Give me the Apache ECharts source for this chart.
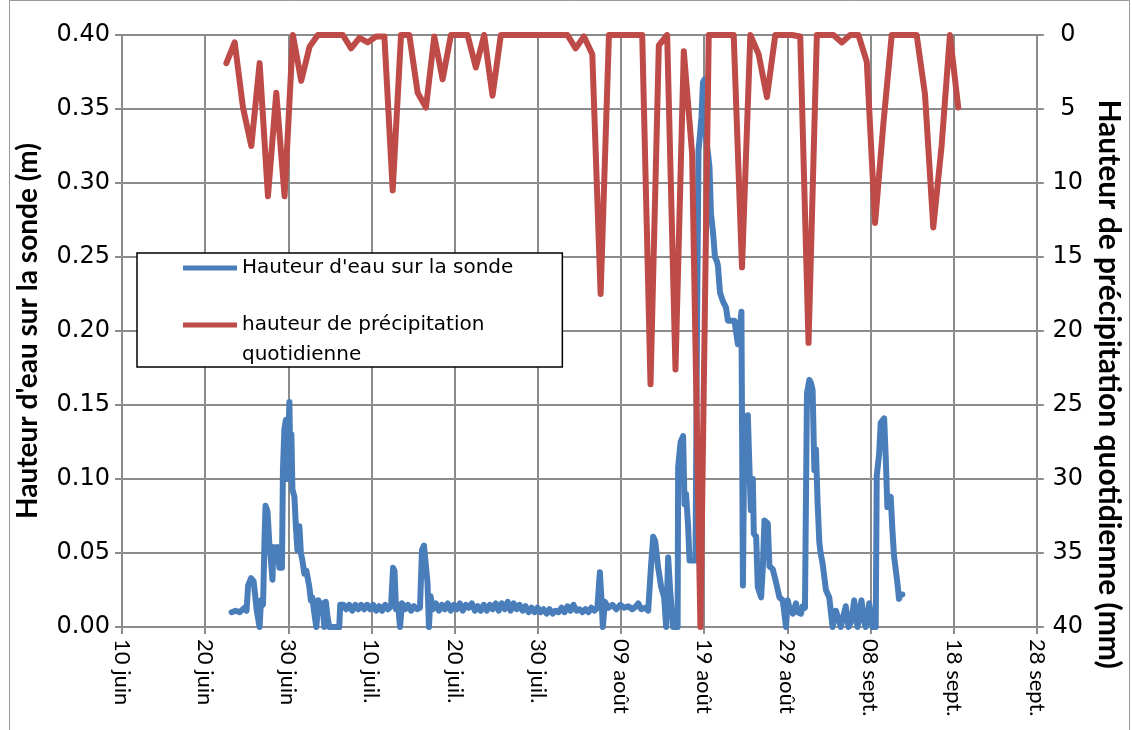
<!DOCTYPE html>
<html><head><meta charset="utf-8">
<script src="https://cdn.jsdelivr.net/npm/echarts@6/dist/echarts.min.js"></script>
<style>html,body{margin:0;padding:0;background:#fff}#c{width:1132px;height:730px}</style>
</head><body><div id="c"></div>
<script>
// ---- data ----
const AXIS_START = Date.UTC(2013, 5, 10); // 10 juin
const DAY = 86400000;
const tickLabels = ['10 juin','20 juin','30 juin','10 juil.','20 juil.','30 juil.','09 août','19 août','29 août','08 sept.','18 sept.','28 sept.'];

const probeName = "Hauteur d'eau sur la sonde";
const rainName = 'hauteur de précipitation quotidienne';

// probe: days elapsed since 10 juin, and water height (m)
const probeDays = [13.18,13.66,14.14,14.74,14.98,15.16,15.52,15.82,16.00,16.18,16.42,16.54,16.72,16.96,17.14,17.26,17.50,17.74,17.91,18.09,18.21,18.45,18.69,18.93,19.23,19.35,19.53,19.71,19.83,19.95,20.13,20.25,20.37,20.49,20.73,20.91,21.09,21.33,21.51,21.69,21.93,22.17,22.53,22.71,22.89,23.13,23.37,23.61,23.85,24.09,24.33,24.51,24.69,24.92,25.52,26.12,26.24,26.60,26.96,27.32,27.68,28.04,28.40,28.76,29.12,29.48,29.84,30.20,30.56,30.92,31.28,31.64,31.99,32.35,32.59,32.77,32.95,33.19,33.43,33.67,34.03,34.39,34.75,35.11,35.47,35.83,36.07,36.31,36.55,36.73,36.91,37.09,37.39,37.75,38.11,38.47,38.83,39.18,39.54,39.90,40.26,40.62,40.98,41.34,41.70,42.06,42.42,42.78,43.14,43.50,43.86,44.22,44.58,44.94,45.30,45.66,46.02,46.38,46.73,47.09,47.45,47.81,48.17,48.53,48.89,49.25,49.61,49.97,50.33,50.69,51.05,51.41,51.77,52.13,52.49,52.85,53.21,53.56,53.92,54.28,54.64,55.00,55.36,55.72,56.08,56.44,56.80,57.16,57.28,57.46,57.64,57.82,58.06,58.48,58.96,59.44,59.92,60.40,60.87,61.35,61.83,62.07,62.43,62.91,63.27,63.45,63.63,63.87,64.11,64.47,64.83,65.19,65.43,65.67,65.91,66.27,66.81,66.87,67.17,67.47,67.64,67.82,68.06,68.24,68.66,68.96,69.14,69.32,69.50,69.68,69.86,70.04,70.22,70.46,70.64,70.82,71.06,71.30,71.54,71.66,71.90,72.26,72.62,72.86,73.64,73.82,74.06,74.24,74.48,74.66,74.84,75.01,75.25,75.43,75.61,75.85,75.97,76.25,76.45,76.85,77.05,77.25,77.65,77.85,78.25,78.65,79.05,79.45,79.84,80.05,80.29,80.65,81.04,81.25,81.64,81.84,82.12,82.36,82.65,82.84,83.04,83.25,83.44,83.64,83.85,84.00,84.24,84.64,85.04,85.44,85.84,86.16,86.43,86.76,87.03,87.36,87.72,88.04,88.44,88.68,88.92,89.15,89.43,89.84,90.23,90.63,90.75,91.04,91.23,91.64,91.83,92.03,92.43,92.63,92.83,93.23,93.43,93.59,93.83];
const probeLevels = [0.010,0.011,0.010,0.013,0.011,0.028,0.033,0.031,0.022,0.012,0.012,0.000,0.018,0.015,0.060,0.082,0.078,0.054,0.045,0.032,0.054,0.050,0.054,0.040,0.040,0.106,0.134,0.140,0.100,0.120,0.152,0.106,0.130,0.093,0.088,0.068,0.052,0.068,0.050,0.045,0.036,0.038,0.027,0.018,0.020,0.009,0.000,0.018,0.010,0.016,0.000,0.017,0.008,0.000,0.000,0.000,0.015,0.015,0.012,0.015,0.011,0.015,0.012,0.015,0.012,0.015,0.012,0.015,0.011,0.014,0.011,0.015,0.012,0.014,0.040,0.038,0.012,0.015,0.000,0.016,0.012,0.015,0.011,0.014,0.012,0.013,0.052,0.055,0.041,0.030,0.000,0.021,0.012,0.016,0.011,0.015,0.012,0.016,0.011,0.015,0.012,0.016,0.011,0.015,0.013,0.016,0.011,0.014,0.011,0.015,0.011,0.015,0.012,0.016,0.011,0.016,0.012,0.017,0.011,0.016,0.012,0.015,0.011,0.014,0.010,0.013,0.010,0.013,0.010,0.012,0.009,0.012,0.009,0.011,0.010,0.013,0.010,0.014,0.011,0.015,0.011,0.012,0.010,0.012,0.010,0.013,0.011,0.013,0.012,0.037,0.020,0.000,0.017,0.013,0.015,0.012,0.015,0.013,0.014,0.012,0.014,0.016,0.012,0.013,0.011,0.012,0.043,0.061,0.058,0.040,0.027,0.020,0.000,0.047,0.025,0.000,0.000,0.108,0.125,0.129,0.083,0.090,0.069,0.045,0.045,0.045,0.200,0.322,0.333,0.345,0.368,0.370,0.330,0.320,0.311,0.279,0.267,0.250,0.247,0.244,0.226,0.220,0.216,0.207,0.207,0.200,0.191,0.200,0.213,0.028,0.137,0.120,0.143,0.110,0.079,0.100,0.063,0.061,0.027,0.020,0.040,0.072,0.070,0.041,0.039,0.030,0.020,0.018,0.000,0.018,0.012,0.009,0.016,0.010,0.009,0.014,0.013,0.158,0.167,0.165,0.160,0.106,0.120,0.084,0.057,0.050,0.043,0.025,0.020,0.000,0.011,0.005,0.000,0.008,0.014,0.000,0.004,0.018,0.000,0.010,0.018,0.005,0.000,0.016,0.000,0.000,0.102,0.117,0.138,0.141,0.115,0.081,0.088,0.066,0.048,0.030,0.019,0.022,0.022];

// daily rainfall (mm), one value per day starting 22 juin
const rainFirstDay = 12.55; // days after 10 juin
const rainMm = [1.9,0.5,4.9,7.5,1.9,10.9,3.9,10.9,0,3.1,0.8,0,0,0,0,0.9,0.2,0.5,0.1,0.1,10.5,0,0,3.9,4.9,0.1,3.0,0,0,0,2.2,0,4.1,0,0,0,0,0,0,0,0,0,0.9,0.1,1.3,17.5,0,0,0,0,0,23.6,0.7,0,22.6,1.1,8.0,40,0,0,0,0,15.7,0,1.3,4.2,0,0,0,0.1,20.8,0,0,0,0.5,0,0,1.8,12.7,6.0,0,0,0,0,4.0,13.0,7.5,0,4.9];

// ---- build ----
const probeData = probeDays.map((d, i) => [AXIS_START + d * DAY, probeLevels[i]]);
const rainData = rainMm.map((v, i) => [AXIS_START + (rainFirstDay + i) * DAY, v]);

const FONT_H = 'DejaVu Sans';   // horizontal texts
const FONT_V = 'Lato';          // rotated texts
const GRID = '#8c8c8c';
const chart = echarts.init(document.getElementById('c'), null, {renderer: 'canvas'});
chart.setOption({
  animation: false,
  backgroundColor: '#fff',
  graphic: [{type: 'rect', left: 7, top: -2, shape: {width: 1120, height: 740}, style: {fill: 'none', stroke: '#9a9a9a', lineWidth: 1}, silent: true, z: -10}],
  grid: {left: 122, right: 92, top: 35, bottom: 103, containLabel: false},
  legend: {
    orient: 'vertical', left: 137, top: 253,
    padding: [5, 49, 2, 46],
    itemWidth: 54, itemHeight: 5, itemGap: 7,
    backgroundColor: '#fff', borderColor: '#000', borderWidth: 1.5,
    icon: 'rect',
    data: [probeName, rainName],
    formatter: n => n === rainName ? '{b| }\n{b|hauteur de précipitation}\n{b|quotidienne}' : '{a|' + n + '}',
    textStyle: {fontFamily: FONT_H, fontSize: 20, color: '#000',
      rich: {a: {fontFamily: FONT_H, fontSize: 20, lineHeight: 22, color: '#000'},
             b: {fontFamily: FONT_H, fontSize: 20, lineHeight: 30, color: '#000'}}}
  },
  xAxis: {
    type: 'value', min: AXIS_START, max: AXIS_START + 110 * DAY, interval: 10 * DAY,
    axisLine: {lineStyle: {color: GRID, width: 2}},
    axisTick: {show: true, length: 7, lineStyle: {color: GRID, width: 2}},
    splitLine: {show: true, lineStyle: {color: GRID, width: 2}},
    axisLabel: {rotate: -90, margin: 12, fontFamily: FONT_V, fontSize: 22, color: '#000',
      formatter: v => tickLabels[Math.round((v - AXIS_START) / (10 * DAY))] || ''}
  },
  yAxis: [{
    type: 'value', min: 0, max: 0.4, interval: 0.05,
    name: "Hauteur d'eau sur la sonde (m)", nameLocation: 'middle', nameRotate: 90, nameGap: 80,
    nameTextStyle: {fontFamily: FONT_V, fontSize: 28, fontWeight: 'bold', color: '#000'},
    axisLine: {show: true, lineStyle: {color: GRID, width: 2}},
    axisTick: {show: true, length: 7, lineStyle: {color: GRID, width: 2}},
    splitLine: {show: true, lineStyle: {color: GRID, width: 2}},
    axisLabel: {margin: 12, fontFamily: FONT_H, fontSize: 24, color: '#000', formatter: v => v.toFixed(2)}
  }, {
    type: 'value', min: 0, max: 40, interval: 5, inverse: true, position: 'right',
    name: 'Hauteur de précipitation quotidienne (mm)', nameLocation: 'middle', nameRotate: -90, nameGap: 51,
    nameTextStyle: {fontFamily: FONT_V, fontSize: 30, fontWeight: 'bold', color: '#000', padding: [0, 0, 0, 106]},
    axisLine: {show: true, lineStyle: {color: GRID, width: 2}},
    axisTick: {show: true, length: 7, lineStyle: {color: GRID, width: 2}},
    splitLine: {show: false},
    axisLabel: {margin: 31, align: 'center', fontFamily: FONT_H, fontSize: 24, color: '#000'}
  }],
  series: [{
    name: probeName, type: 'line', xAxisIndex: 0, yAxisIndex: 0, data: probeData,
    showSymbol: false, symbol: 'none', color: '#4A7EBB',
    lineStyle: {width: 6, color: '#4A7EBB', cap: 'round', join: 'round'}, z: 2
  }, {
    name: rainName, type: 'line', xAxisIndex: 0, yAxisIndex: 1, data: rainData,
    showSymbol: false, symbol: 'none', color: '#BE4B48',
    lineStyle: {width: 6, color: '#BE4B48', cap: 'round', join: 'round'}, z: 3
  }]
});
</script></body></html>
